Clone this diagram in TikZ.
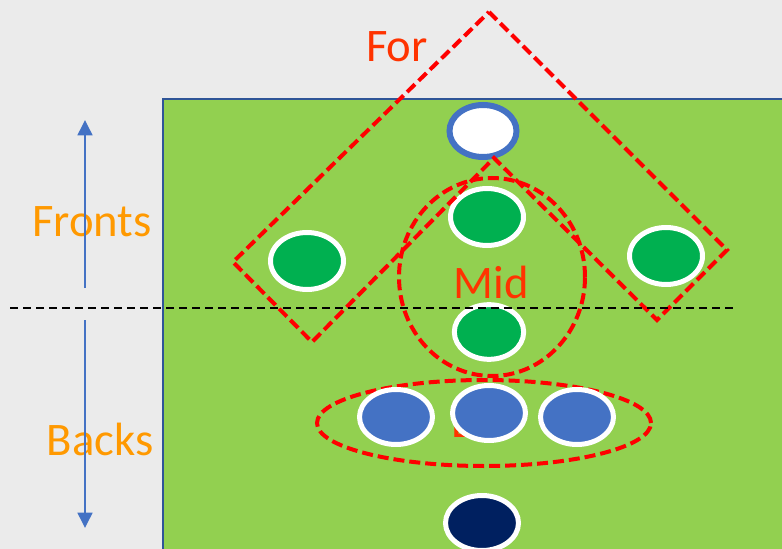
\documentclass[tikz,border=0pt]{standalone}
\usepackage{fontspec}
\setmainfont{Carlito}
\definecolor{pitchbg}{RGB}{235,235,235}
\definecolor{pitchgreen}{RGB}{146,208,80}
\definecolor{pitchedge}{RGB}{47,85,151}
\definecolor{teamgreen}{RGB}{0,176,80}
\definecolor{teamblue}{RGB}{68,114,196}
\definecolor{teamnavy}{RGB}{0,32,96}
\definecolor{zonered}{RGB}{255,0,0}
\definecolor{zonetext}{RGB}{255,51,0}
\definecolor{lineorange}{RGB}{255,153,0}
\usetikzlibrary{arrows.meta,shapes.geometric}

\begin{document}
\begin{tikzpicture}[x=0.75pt,y=-0.75pt,
  player/.style={ellipse,draw=white,line width=3.75pt,minimum width=54.75pt,
    minimum height=42.75pt,inner sep=0pt},
  zone/.style={draw=zonered,line width=3pt,dash pattern=on 8.25pt off 3.75pt},
  zonelabel/.style={text=zonetext,font=\fontsize{35}{41}\selectfont,inner sep=0pt},
  linelabel/.style={text=lineorange,font=\fontsize{35}{41}\selectfont,inner sep=0pt},
  lineaxis/.style={draw=teamblue,line width=1.9pt,-{Triangle[length=11.5pt,width=11pt]}}
]
  \fill[pitchbg] (0,0) rectangle (782,549);
  \useasboundingbox (0,0) rectangle (782,549);
  \clip (0,0) rectangle (782,549);
  \draw[pitchedge,line width=1.5pt,fill=pitchgreen] (163,99) rectangle (800,570);

  \node[zonelabel,anchor=base west] (backtag) at (451,437) {B};
  \node[ellipse,zone,minimum width=250.5pt,minimum height=64.5pt] (backzone) at (484,423) {};

  \node[player,draw=teamblue,fill=white,line width=4.5pt,minimum width=50.25pt,minimum height=39pt] (target) at (483,131) {};
  \node[player,fill=teamgreen] (fwdleft) at (307,261) {};
  \node[player,fill=teamgreen] (fwdcentre) at (487,217) {};
  \node[player,fill=teamgreen] (fwdright) at (666,256) {};
  \node[player,fill=teamgreen,minimum width=52pt,minimum height=41pt] (midcentre) at (489,332) {};
  \node[player,fill=teamblue,minimum height=41.25pt] (backleft) at (396,417) {};
  \node[player,fill=teamblue,minimum height=41.25pt] (backcentre) at (489,413) {};
  \node[player,fill=teamblue,minimum height=41.25pt] (backright) at (577,417) {};
  \node[player,fill=teamnavy,minimum height=41.25pt] (sweeper) at (482,523) {};

  \draw[zone] (489,12) -- (727,250) -- (657,320) -- (494,158) -- (312,342) -- (233,262) -- cycle;
  \node[ellipse,zone,minimum width=139.5pt,minimum height=148.5pt] (midzone) at (492,277) {};

  \node[zonelabel] (fortag) at (397,47) {For};
  \node[zonelabel] (midtag) at (491,282) {Mid};
  \node[linelabel] (fronts) at (92,222) {Fronts};
  \node[linelabel] (backs) at (100,439) {Backs};

  \coordinate (frontsfoot) at (85,288);
  \coordinate (frontshead) at (85,120);
  \coordinate (backsfoot) at (85,320);
  \coordinate (backshead) at (85,528);
  \draw[lineaxis] (frontsfoot) -- (frontshead);
  \draw[lineaxis] (backsfoot) -- (backshead);

  \coordinate (halfwest) at (10,308);
  \coordinate (halfeast) at (735,308);
  \draw[black,line width=1.4pt,dash pattern=on 6pt off 3.75pt] (halfwest) -- (halfeast);
\end{tikzpicture}
\end{document}
